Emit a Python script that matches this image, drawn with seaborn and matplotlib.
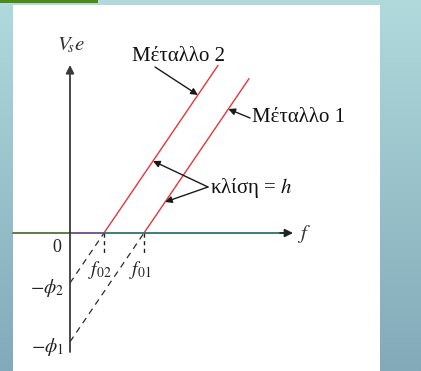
import numpy as np
import pandas as pd
import matplotlib
matplotlib.use("Agg")
import matplotlib.pyplot as plt
import seaborn as sns
from matplotlib.patches import Rectangle

# Photoelectric effect: stopping energy Vs·e = h·f − φ for two metals
metals = ["Μέταλλο 2", "Μέταλλο 1"]
threshold_freq = [0.34, 0.74]          # f02, f01
slope_h = 1.47                          # common slope h
work_function = [slope_h * f0 for f0 in threshold_freq]   # φ2, φ1
line_end_freq = [1.48, 1.79]
freq_labels = [r"$f_{02}$", r"$f_{01}$"]
phi_labels = [r"$-\phi_2$", r"$-\phi_1$"]

sns.set_theme(style="white")
plt.rcParams["font.family"] = ["Liberation Serif", "DejaVu Serif"]
plt.rcParams["mathtext.fontset"] = "stix"

W, H = 421, 371
fig = plt.figure(figsize=(W / 100, H / 100), dpi=100)

# slide background: soft teal vertical gradient
bg = fig.add_axes([0, 0, 1, 1], zorder=0)
top = np.array([176, 218, 220]) / 255
bot = np.array([130, 170, 185]) / 255
t = np.linspace(0, 1, 256)[:, None]
grad = (top[None, :] * (1 - t) + bot[None, :] * t)[:, None, :]
bg.imshow(grad, aspect="auto", extent=[0, 1, 0, 1])
bg.set_axis_off()

ax = fig.add_axes([0, 0, 1, 1], zorder=1)
ax.set_facecolor("none")
ax.set_xlim(-0.70, 3.51)
ax.set_ylim(-1.38, 2.33)
ax.set_axis_off()

# white panel and green header bar
fig.patches.append(Rectangle((13 / W, 0), (380 - 13) / W, (371 - 5) / H,
                             transform=fig.transFigure, facecolor="white",
                             edgecolor="none", zorder=0.5))
fig.patches.append(Rectangle((0, 1 - 2.5 / H), 98 / W, 2.5 / H,
                             transform=fig.transFigure, facecolor="#4f8a16",
                             edgecolor="none", zorder=0.6))

red = "#e8353a"
dash_col = "#2a2a2a"

for f0, phi, f_end in zip(threshold_freq, work_function, line_end_freq):
    solid = pd.DataFrame({"f": [f0, f_end], "V": [0.0, slope_h * (f_end - f0)]})
    sns.lineplot(data=solid, x="f", y="V", ax=ax, color=red, lw=1.0,
                 sort=False, estimator=None)
    ext = pd.DataFrame({"f": [0.0, f0], "V": [-phi, 0.0]})
    sns.lineplot(data=ext, x="f", y="V", ax=ax, color=dash_col, lw=0.9,
                 linestyle=(0, (5, 4)), sort=False, estimator=None)
    tick = pd.DataFrame({"f": [f0, f0], "V": [0.0, -0.21]})
    sns.lineplot(data=tick, x="f", y="V", ax=ax, color="#222222", lw=1.0,
                 linestyle=(0, (3, 2.5)), sort=False, estimator=None)

ax.set_xlabel("")
ax.set_ylabel("")

# horizontal axis (f) drawn in segments, then arrowhead
ax.plot([-0.57, 0.0], [0, 0], color="#50703f", lw=1.3, zorder=3)
ax.plot([0.0, 0.34], [0, 0], color="#6a4c86", lw=1.3, zorder=3)
ax.plot([0.34, 2.15], [0, 0], color="#2e7468", lw=1.3, zorder=3)
ax.annotate("", xy=(2.23, 0), xytext=(2.10, 0),
            arrowprops=dict(arrowstyle="-|>", color="#222222", lw=1.2,
                            mutation_scale=12, shrinkA=0, shrinkB=0), zorder=4)
# vertical axis (Vs e)
ax.annotate("", xy=(0, 1.68), xytext=(0, -1.19),
            arrowprops=dict(arrowstyle="-|>", color="#3a3a3a", lw=1.3,
                            mutation_scale=12, shrinkA=0, shrinkB=0), zorder=4)

fs = 15
ax.text(0.01, 1.88, r"$V_{\!s}e$", fontsize=15, ha="center", va="center", color="#333333")
ax.text(2.27, -0.01, r"$f$", fontsize=15, ha="left", va="center", color="#333333")
ax.text(-0.13, -0.14, "0", fontsize=13, ha="center", va="center", color="#222222")
for f0, lab in zip(threshold_freq, freq_labels):
    ax.text(f0 - 0.04, -0.37, lab, fontsize=14, ha="center", va="center", color="#222222")
for phi, lab in zip(work_function, phi_labels):
    ax.text(-0.23, -phi - 0.05, lab, fontsize=14, ha="center", va="center", color="#222222")

arrow_kw = dict(arrowstyle="-|>", color="#1a1a1a", lw=1.0, mutation_scale=10,
                shrinkA=0, shrinkB=0)

# metal labels with pointers
ax.text(1.09, 1.77, metals[0], fontsize=fs, ha="center", va="center", color="#111111")
y2 = 1.38
ax.annotate("", xy=(threshold_freq[0] + y2 / slope_h, y2), xytext=(0.85, 1.66),
            arrowprops=arrow_kw)
ax.text(1.82, 1.16, metals[1], fontsize=fs, ha="left", va="center", color="#111111")
y1 = 1.24
ax.annotate("", xy=(threshold_freq[1] + y1 / slope_h, y1), xytext=(1.80, 1.15),
            arrowprops=arrow_kw)

# slope annotation pointing at both lines
ax.text(1.40, 0.45, r"κλίση = $h$", fontsize=fs, ha="left", va="center", color="#111111")
for f0, yv in zip(threshold_freq, [0.72, 0.31]):
    ax.annotate("", xy=(f0 + yv / slope_h, yv), xytext=(1.38, 0.46),
                arrowprops=arrow_kw)

fig.savefig("out.png", dpi=100)
